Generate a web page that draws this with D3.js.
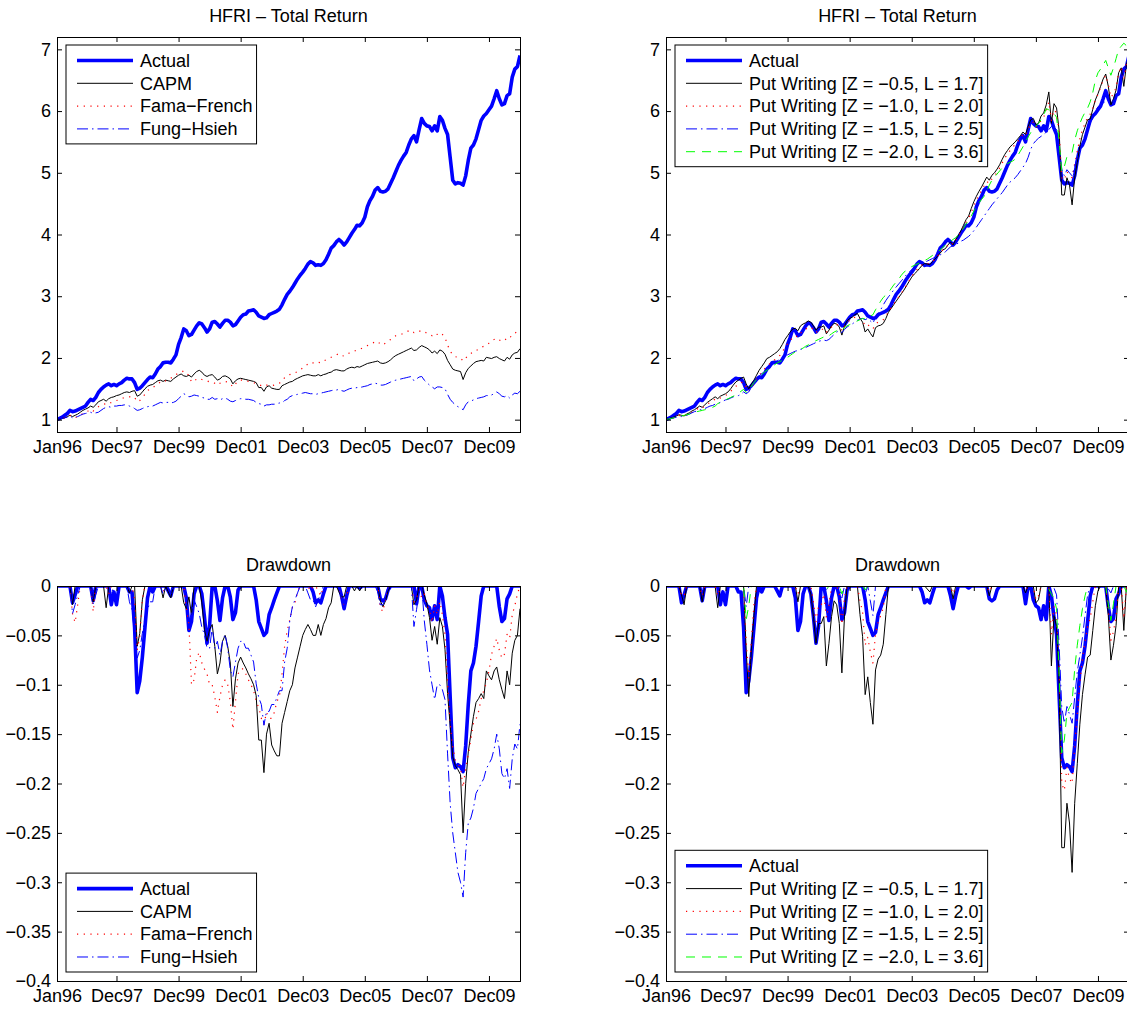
<!DOCTYPE html>
<html>
<head>
<meta charset="utf-8">
<script src="https://cdn.jsdelivr.net/npm/d3@7"></script>
<style>
  body { margin: 0; background: #fff; }
  svg text { font-family: "Liberation Sans", Arial, Helvetica, sans-serif; fill: #000; }
</style>
</head>
<body>
<svg id="chart" width="1127" height="1009"></svg>
<script>

  // months since Jan96 where the x ticks sit, and their labels
  var tickMonths = [0, 23, 47, 71, 95, 119, 143, 167];
  var tickLabels = ['Jan96', 'Dec97', 'Dec99', 'Dec01', 'Dec03', 'Dec05', 'Dec07', 'Dec09'];
  var returnTicks = [1, 2, 3, 4, 5, 6, 7];
  var drawdownTicks = [0, -0.05, -0.1, -0.15, -0.2, -0.25, -0.3, -0.35, -0.4];

  var modelNames = ['Actual', 'CAPM', 'Fama\u2212French', 'Fung\u2212Hsieh'];
  var putNames = ['Actual',
    'Put Writing [Z = \u22120.5, L = 1.7]',
    'Put Writing [Z = \u22121.0, L = 2.0]',
    'Put Writing [Z = \u22121.5, L = 2.5]',
    'Put Writing [Z = \u22122.0, L = 3.6]'];

  // total return, monthly Jan96 .. Dec10 (one row per year)
  var actualTR = [
    1.00,1.02,1.04,1.07,1.10,1.15,1.13,1.14,1.16,1.18,1.20,1.22,
    1.28,1.33,1.31,1.36,1.44,1.49,1.53,1.56,1.58,1.55,1.57,1.55,
    1.58,1.60,1.64,1.67,1.66,1.66,1.60,1.49,1.51,1.55,1.60,1.65,
    1.69,1.68,1.74,1.82,1.86,1.92,1.93,1.93,1.92,1.98,2.05,2.22,
    2.33,2.47,2.44,2.36,2.38,2.45,2.52,2.57,2.55,2.49,2.42,2.47,
    2.58,2.59,2.55,2.50,2.56,2.61,2.61,2.58,2.52,2.54,2.60,2.66,
    2.70,2.71,2.76,2.77,2.78,2.74,2.68,2.66,2.64,2.65,2.70,2.72,
    2.74,2.76,2.79,2.86,2.95,3.03,3.08,3.14,3.21,3.28,3.34,3.39,
    3.45,3.52,3.56,3.54,3.50,3.51,3.50,3.53,3.59,3.68,3.78,3.82,
    3.88,3.92,3.88,3.83,3.88,3.95,4.02,4.08,4.15,4.14,4.19,4.28,
    4.45,4.55,4.62,4.72,4.76,4.70,4.69,4.70,4.74,4.83,4.92,5.02,
    5.12,5.20,5.27,5.33,5.45,5.55,5.60,5.50,5.70,5.88,5.80,5.76,
    5.75,5.68,5.76,5.68,5.91,5.85,5.72,5.62,5.25,4.88,4.82,4.84,
    4.83,4.80,4.95,5.20,5.40,5.45,5.55,5.70,5.85,5.92,5.96,6.02,
    6.08,6.20,6.33,6.20,6.10,6.12,6.25,6.28,6.55,6.68,6.72,6.90
  ];

  var capmTR = [
    1.00,1.01,1.02,1.03,1.05,1.07,1.05,1.07,1.09,1.12,1.15,1.17,
    1.19,1.22,1.20,1.24,1.29,1.31,1.33,1.30,1.34,1.36,1.37,1.39,
    1.40,1.42,1.44,1.45,1.44,1.46,1.47,1.38,1.40,1.45,1.50,1.54,
    1.56,1.57,1.60,1.63,1.64,1.62,1.64,1.63,1.62,1.66,1.69,1.72,
    1.74,1.71,1.70,1.72,1.69,1.74,1.78,1.80,1.77,1.72,1.70,1.72,
    1.73,1.69,1.64,1.66,1.70,1.71,1.69,1.66,1.58,1.63,1.66,1.67,
    1.66,1.65,1.64,1.63,1.62,1.60,1.52,1.52,1.46,1.53,1.55,1.51,
    1.50,1.49,1.49,1.55,1.57,1.59,1.61,1.62,1.65,1.67,1.69,1.71,
    1.72,1.73,1.72,1.71,1.71,1.73,1.71,1.73,1.74,1.76,1.77,1.80,
    1.81,1.80,1.79,1.79,1.82,1.84,1.85,1.84,1.86,1.85,1.87,1.89,
    1.91,1.92,1.93,1.94,1.95,1.92,1.91,1.92,1.94,1.97,2.01,2.04,
    2.06,2.08,2.10,2.12,2.14,2.16,2.12,2.13,2.17,2.20,2.18,2.16,
    2.13,2.08,2.11,2.07,2.13,2.11,2.06,1.96,1.89,1.82,1.80,1.79,
    1.78,1.65,1.76,1.83,1.87,1.91,1.94,1.95,1.96,1.95,2.01,2.00,
    1.99,2.01,2.02,1.99,1.97,1.95,2.01,1.98,2.05,2.08,2.09,2.15
  ];

  var famaFrenchTR = [
    1.00,1.01,1.02,1.03,1.05,1.07,1.04,1.03,1.05,1.07,1.10,1.12,
    1.14,1.17,1.14,1.17,1.21,1.23,1.25,1.26,1.25,1.28,1.29,1.31,
    1.32,1.34,1.36,1.37,1.37,1.38,1.36,1.29,1.31,1.36,1.41,1.47,
    1.50,1.52,1.55,1.58,1.61,1.60,1.63,1.66,1.67,1.70,1.73,1.76,
    1.77,1.79,1.75,1.72,1.61,1.62,1.66,1.67,1.65,1.64,1.63,1.61,
    1.61,1.59,1.56,1.59,1.61,1.62,1.61,1.58,1.53,1.58,1.63,1.64,
    1.64,1.63,1.62,1.61,1.60,1.58,1.57,1.55,1.54,1.56,1.55,1.55,
    1.56,1.58,1.59,1.63,1.68,1.71,1.73,1.75,1.76,1.78,1.80,1.84,
    1.87,1.90,1.89,1.92,1.94,1.93,1.92,1.95,1.97,1.99,2.01,2.03,
    2.05,2.07,2.04,2.03,2.05,2.08,2.10,2.11,2.13,2.14,2.16,2.18,
    2.20,2.22,2.24,2.26,2.27,2.22,2.21,2.24,2.27,2.30,2.34,2.36,
    2.37,2.38,2.40,2.42,2.44,2.45,2.41,2.42,2.44,2.42,2.43,2.40,
    2.39,2.36,2.40,2.38,2.41,2.38,2.33,2.21,2.11,2.05,2.02,2.01,
    2.00,1.95,2.00,2.03,2.07,2.11,2.12,2.14,2.17,2.19,2.21,2.24,
    2.28,2.30,2.32,2.29,2.27,2.28,2.33,2.32,2.38,2.40,2.43,2.46
  ];

  var fungHsiehTR = [
    1.00,1.01,1.02,1.03,1.04,1.06,1.03,1.04,1.05,1.07,1.09,1.10,
    1.11,1.12,1.10,1.11,1.12,1.15,1.18,1.20,1.21,1.20,1.22,1.22,
    1.23,1.23,1.24,1.24,1.22,1.21,1.18,1.15,1.16,1.18,1.20,1.21,
    1.22,1.22,1.24,1.26,1.28,1.27,1.28,1.28,1.27,1.28,1.30,1.34,
    1.38,1.42,1.40,1.37,1.38,1.40,1.39,1.38,1.36,1.35,1.33,1.33,
    1.36,1.33,1.34,1.32,1.34,1.35,1.33,1.30,1.29,1.31,1.33,1.34,
    1.34,1.33,1.33,1.32,1.31,1.28,1.26,1.25,1.22,1.24,1.24,1.25,
    1.25,1.26,1.27,1.27,1.31,1.33,1.37,1.39,1.40,1.41,1.42,1.43,
    1.44,1.43,1.42,1.42,1.41,1.42,1.43,1.44,1.45,1.46,1.47,1.48,
    1.48,1.49,1.47,1.46,1.48,1.50,1.51,1.51,1.52,1.52,1.53,1.54,
    1.55,1.57,1.58,1.59,1.58,1.56,1.56,1.57,1.59,1.61,1.63,1.64,
    1.65,1.66,1.67,1.68,1.69,1.70,1.63,1.66,1.69,1.70,1.64,1.60,
    1.56,1.53,1.50,1.53,1.53,1.52,1.50,1.41,1.33,1.28,1.24,1.21,
    1.19,1.16,1.24,1.29,1.30,1.32,1.34,1.35,1.36,1.37,1.39,1.39,
    1.40,1.42,1.45,1.42,1.38,1.37,1.39,1.35,1.40,1.43,1.42,1.46
  ];

  var put05TR = [
    1.00,1.01,1.03,1.04,1.06,1.08,1.07,1.06,1.09,1.11,1.14,1.16,
    1.19,1.22,1.20,1.24,1.28,1.31,1.34,1.37,1.34,1.38,1.40,1.42,
    1.45,1.50,1.56,1.61,1.64,1.67,1.69,1.58,1.50,1.58,1.64,1.72,
    1.80,1.86,1.92,1.99,2.01,2.04,2.07,2.10,2.15,2.22,2.30,2.36,
    2.42,2.47,2.48,2.44,2.52,2.55,2.57,2.60,2.58,2.52,2.45,2.50,
    2.50,2.52,2.39,2.45,2.52,2.56,2.55,2.50,2.37,2.52,2.60,2.64,
    2.66,2.70,2.72,2.64,2.58,2.42,2.47,2.40,2.34,2.49,2.52,2.53,
    2.56,2.64,2.74,2.80,2.86,2.92,2.98,3.04,3.10,3.17,3.24,3.31,
    3.36,3.40,3.45,3.50,3.53,3.52,3.51,3.56,3.60,3.65,3.70,3.75,
    3.77,3.83,3.88,3.83,3.92,3.98,4.06,4.15,4.24,4.30,4.42,4.53,
    4.62,4.70,4.77,4.85,4.93,4.88,4.96,5.00,5.06,5.13,5.22,5.30,
    5.36,5.42,5.46,5.50,5.55,5.60,5.66,5.62,5.75,5.86,5.88,5.78,
    5.80,5.92,5.97,6.10,6.31,5.80,6.12,6.05,5.68,4.64,4.64,4.92,
    4.80,4.48,4.92,5.17,5.43,5.62,5.74,5.86,5.87,6.03,6.18,6.28,
    6.40,6.52,6.60,6.40,6.10,6.20,6.34,6.62,6.70,6.40,6.75,6.92
  ];

  var put10TR = [
    1.00,1.01,1.02,1.03,1.05,1.07,1.06,1.06,1.08,1.10,1.12,1.14,
    1.17,1.20,1.19,1.22,1.25,1.28,1.31,1.33,1.32,1.35,1.37,1.39,
    1.42,1.46,1.50,1.54,1.57,1.60,1.61,1.52,1.46,1.52,1.58,1.65,
    1.72,1.77,1.82,1.87,1.90,1.94,1.97,2.00,2.04,2.10,2.17,2.23,
    2.28,2.33,2.36,2.34,2.40,2.44,2.47,2.49,2.50,2.46,2.41,2.45,
    2.45,2.48,2.42,2.45,2.50,2.54,2.54,2.52,2.44,2.51,2.57,2.61,
    2.63,2.66,2.68,2.64,2.61,2.52,2.54,2.50,2.47,2.55,2.58,2.60,
    2.62,2.68,2.75,2.81,2.87,2.93,2.99,3.05,3.11,3.18,3.25,3.32,
    3.38,3.43,3.47,3.51,3.53,3.53,3.53,3.56,3.60,3.65,3.70,3.75,
    3.78,3.83,3.87,3.84,3.91,3.97,4.04,4.12,4.20,4.26,4.36,4.46,
    4.56,4.64,4.71,4.79,4.86,4.83,4.90,4.95,5.01,5.08,5.16,5.24,
    5.30,5.36,5.41,5.46,5.51,5.56,5.62,5.60,5.70,5.80,5.82,5.74,
    5.76,5.85,5.90,6.00,6.15,5.85,6.02,5.97,5.66,4.92,4.88,5.02,
    4.95,4.92,5.15,5.35,5.55,5.70,5.80,5.90,5.95,6.05,6.18,6.27,
    6.38,6.50,6.58,6.43,6.22,6.28,6.38,6.62,6.72,6.50,6.78,6.95
  ];

  var put15TR = [
    1.00,1.01,1.02,1.03,1.04,1.05,1.05,1.06,1.07,1.09,1.11,1.13,
    1.14,1.16,1.16,1.18,1.20,1.22,1.23,1.25,1.26,1.28,1.30,1.32,
    1.33,1.35,1.37,1.38,1.39,1.41,1.45,1.42,1.45,1.52,1.58,1.64,
    1.70,1.75,1.79,1.83,1.86,1.89,1.92,1.95,1.98,2.01,2.03,2.05,
    2.07,2.09,2.11,2.12,2.14,2.15,2.17,2.19,2.21,2.23,2.25,2.27,
    2.28,2.29,2.28,2.30,2.34,2.38,2.42,2.44,2.41,2.46,2.50,2.53,
    2.55,2.58,2.61,2.63,2.64,2.62,2.64,2.60,2.56,2.66,2.72,2.78,
    2.86,2.93,2.99,3.04,3.10,3.15,3.20,3.25,3.30,3.35,3.39,3.43,
    3.46,3.49,3.52,3.54,3.55,3.57,3.59,3.61,3.63,3.65,3.67,3.69,
    3.72,3.76,3.80,3.82,3.84,3.86,3.89,3.91,3.94,3.97,4.01,4.06,
    4.12,4.18,4.24,4.30,4.36,4.42,4.48,4.53,4.58,4.63,4.68,4.74,
    4.80,4.85,4.88,4.92,4.97,5.03,5.09,5.15,5.25,5.38,5.47,5.52,
    5.56,5.59,5.62,5.66,5.70,5.75,5.74,5.70,5.40,5.05,4.95,5.05,
    5.00,4.95,5.10,5.25,5.35,5.45,5.58,5.70,5.80,5.90,6.00,6.07,
    6.10,6.13,6.16,6.14,6.12,6.18,6.22,6.32,6.50,6.62,6.72,6.85
  ];

  var put20TR = [
    1.00,1.01,1.02,1.03,1.04,1.05,1.06,1.07,1.08,1.09,1.10,1.12,
    1.13,1.14,1.15,1.16,1.17,1.19,1.20,1.22,1.26,1.28,1.30,1.32,
    1.34,1.36,1.38,1.40,1.43,1.46,1.49,1.44,1.46,1.54,1.60,1.65,
    1.69,1.73,1.77,1.80,1.83,1.86,1.89,1.92,1.94,1.96,1.99,2.01,
    2.04,2.07,2.10,2.12,2.14,2.16,2.19,2.21,2.24,2.26,2.28,2.30,
    2.32,2.34,2.33,2.36,2.39,2.42,2.44,2.46,2.44,2.49,2.52,2.54,
    2.56,2.58,2.60,2.62,2.64,2.63,2.66,2.68,2.70,2.78,2.85,2.92,
    2.98,3.02,3.06,3.12,3.18,3.23,3.28,3.34,3.39,3.42,3.45,3.48,
    3.50,3.52,3.54,3.56,3.58,3.60,3.63,3.66,3.69,3.72,3.75,3.79,
    3.83,3.86,3.89,3.92,3.95,3.99,4.04,4.10,4.17,4.23,4.30,4.38,
    4.45,4.51,4.57,4.62,4.70,4.80,4.88,4.93,4.98,5.03,5.08,5.12,
    5.15,5.17,5.19,5.22,5.28,5.35,5.42,5.50,5.58,5.65,5.72,5.76,
    5.80,5.86,5.93,6.04,6.02,5.99,5.96,5.90,5.50,5.02,5.10,5.26,
    5.30,5.33,5.53,5.68,5.80,5.90,5.98,6.05,6.15,6.30,6.50,6.62,
    6.68,6.75,6.82,6.70,6.58,6.70,6.85,7.00,7.05,7.10,7.06,7.12
  ];

  // drawdown, monthly Jan96 .. Dec10
  var actualDD = [
    0,0,0,0,0,0,-0.017,-0.009,0,0,0,0,
    0,0,-0.015,0,0,0,0,0,0,-0.019,-0.006,-0.019,
    0,0,0,0,-0.006,-0.006,-0.042,-0.108,-0.096,-0.072,-0.042,-0.012,
    0,-0.006,0,0,0,0,0,-0.005,-0.01,0,0,0,
    0,0,-0.012,-0.045,-0.036,-0.008,0,0,-0.008,-0.031,-0.058,-0.04,
    0,0,-0.015,-0.035,-0.012,0,0,-0.011,-0.034,-0.027,-0.004,0,
    0,0,0,0,0,-0.014,-0.036,-0.043,-0.05,-0.047,-0.029,-0.022,
    -0.014,-0.007,0,0,0,0,0,0,0,0,0,0,
    0,0,0,-0.006,-0.017,-0.014,-0.017,-0.008,0,0,0,0,
    0,0,-0.01,-0.023,-0.01,0,0,0,0,-0.002,0,0,
    0,0,0,0,0,-0.013,-0.015,-0.013,-0.004,0,0,0,
    0,0,0,0,0,0,0,-0.018,0,0,-0.014,-0.02,
    -0.022,-0.034,-0.02,-0.034,0,-0.01,-0.032,-0.049,-0.112,-0.174,-0.184,-0.181,
    -0.183,-0.188,-0.162,-0.12,-0.086,-0.078,-0.061,-0.036,-0.01,0,0,0,
    0,0,0,-0.021,-0.036,-0.033,-0.013,-0.008,0,0,0,0
  ];

  var capmDD = [
    0,0,0,0,0,0,-0.019,0,0,0,0,0,
    0,0,-0.016,0,0,0,0,-0.022,0,0,0,0,
    0,0,0,0,-0.007,0,0,-0.061,-0.048,-0.014,0,0,
    0,0,0,0,0,-0.012,0,-0.006,-0.012,0,0,0,
    0,-0.017,-0.023,-0.011,-0.029,0,0,0,-0.017,-0.044,-0.056,-0.044,
    -0.039,-0.061,-0.089,-0.078,-0.056,-0.05,-0.061,-0.078,-0.122,-0.094,-0.078,-0.072,
    -0.078,-0.083,-0.089,-0.094,-0.1,-0.111,-0.156,-0.156,-0.189,-0.15,-0.139,-0.161,
    -0.167,-0.172,-0.172,-0.139,-0.128,-0.117,-0.106,-0.1,-0.083,-0.072,-0.061,-0.05,
    -0.044,-0.039,-0.044,-0.05,-0.05,-0.039,-0.05,-0.039,-0.033,-0.022,-0.017,0,
    0,-0.006,-0.011,-0.011,0,0,0,-0.005,0,-0.005,0,0,
    0,0,0,0,0,-0.015,-0.021,-0.015,-0.005,0,0,0,
    0,0,0,0,0,0,-0.019,-0.014,0,0,-0.009,-0.018,
    -0.032,-0.055,-0.041,-0.059,-0.032,-0.041,-0.064,-0.109,-0.141,-0.173,-0.182,-0.186,
    -0.191,-0.25,-0.2,-0.168,-0.15,-0.132,-0.118,-0.114,-0.109,-0.114,-0.086,-0.091,
    -0.095,-0.086,-0.082,-0.095,-0.105,-0.114,-0.086,-0.1,-0.068,-0.055,-0.05,-0.023
  ];

  var famaFrenchDD = [
    0,0,0,0,0,0,-0.028,-0.037,-0.019,0,0,0,
    0,0,-0.026,0,0,0,0,0,-0.008,0,0,0,
    0,0,0,0,0,0,-0.014,-0.065,-0.051,-0.014,0,0,
    0,0,0,0,0,-0.006,0,0,0,0,0,0,
    0,0,-0.022,-0.039,-0.1,-0.095,-0.073,-0.067,-0.078,-0.084,-0.089,-0.1,
    -0.1,-0.112,-0.128,-0.112,-0.1,-0.095,-0.1,-0.117,-0.145,-0.117,-0.089,-0.084,
    -0.084,-0.089,-0.095,-0.1,-0.106,-0.117,-0.123,-0.134,-0.14,-0.128,-0.134,-0.134,
    -0.128,-0.117,-0.112,-0.089,-0.061,-0.045,-0.034,-0.022,-0.017,-0.006,0,0,
    0,0,-0.005,0,0,-0.005,-0.01,0,0,0,0,0,
    0,0,-0.015,-0.019,-0.01,0,0,0,0,0,0,0,
    0,0,0,0,0,-0.022,-0.026,-0.013,0,0,0,0,
    0,0,0,0,0,0,-0.016,-0.012,-0.004,-0.012,-0.008,-0.02,
    -0.024,-0.037,-0.02,-0.029,-0.016,-0.029,-0.049,-0.098,-0.139,-0.163,-0.176,-0.18,
    -0.184,-0.204,-0.184,-0.171,-0.155,-0.139,-0.135,-0.127,-0.114,-0.106,-0.098,-0.086,
    -0.069,-0.061,-0.053,-0.065,-0.073,-0.069,-0.049,-0.053,-0.029,-0.02,-0.008,0
  ];

  var fungHsiehDD = [
    0,0,0,0,0,0,-0.028,-0.019,-0.009,0,0,0,
    0,0,-0.018,-0.009,0,0,0,0,0,-0.008,0,0,
    0,0,0,0,-0.016,-0.024,-0.048,-0.073,-0.065,-0.048,-0.032,-0.024,
    -0.016,-0.016,0,0,0,-0.008,0,0,-0.008,0,0,0,
    0,0,-0.014,-0.035,-0.028,-0.014,-0.021,-0.028,-0.042,-0.049,-0.063,-0.063,
    -0.042,-0.063,-0.056,-0.07,-0.056,-0.049,-0.063,-0.085,-0.092,-0.077,-0.063,-0.056,
    -0.056,-0.063,-0.063,-0.07,-0.077,-0.099,-0.113,-0.12,-0.141,-0.127,-0.127,-0.12,
    -0.12,-0.113,-0.106,-0.106,-0.077,-0.063,-0.035,-0.021,-0.014,-0.007,0,0,
    0,-0.007,-0.014,-0.014,-0.021,-0.014,-0.007,0,0,0,0,0,
    0,0,-0.013,-0.02,-0.007,0,0,0,0,0,0,0,
    0,0,0,0,-0.006,-0.019,-0.019,-0.013,0,0,0,0,
    0,0,0,0,0,0,-0.041,-0.024,-0.006,0,-0.035,-0.059,
    -0.085,-0.1,-0.115,-0.1,-0.1,-0.105,-0.115,-0.17,-0.22,-0.25,-0.27,-0.29,
    -0.3,-0.315,-0.27,-0.24,-0.235,-0.225,-0.21,-0.205,-0.2,-0.195,-0.185,-0.18,
    -0.175,-0.165,-0.15,-0.165,-0.19,-0.195,-0.185,-0.205,-0.175,-0.16,-0.165,-0.14
  ];

  var put05DD = [
    0,0,0,0,0,0,-0.009,-0.019,0,0,0,0,
    0,0,-0.016,0,0,0,0,0,-0.022,0,0,0,
    0,0,0,0,0,0,0,-0.065,-0.112,-0.065,-0.03,0,
    0,0,0,0,0,0,0,0,0,0,0,0,
    0,0,0,-0.016,0,0,0,0,-0.008,-0.031,-0.058,-0.038,
    -0.038,-0.031,-0.081,-0.058,-0.031,-0.015,-0.019,-0.038,-0.088,-0.031,0,0,
    0,0,0,-0.029,-0.051,-0.11,-0.092,-0.118,-0.14,-0.085,-0.074,-0.07,
    -0.059,-0.029,0,0,0,0,0,0,0,0,0,0,
    0,0,0,0,0,-0.003,-0.006,0,0,0,0,0,
    0,0,0,-0.013,0,0,0,0,0,0,0,0,
    0,0,0,0,0,-0.01,0,0,0,0,0,0,
    0,0,0,0,0,0,0,-0.007,0,0,0,-0.017,
    -0.014,0,0,0,0,-0.081,-0.03,-0.041,-0.1,-0.265,-0.265,-0.22,
    -0.24,-0.29,-0.22,-0.18,-0.14,-0.11,-0.09,-0.072,-0.07,-0.045,-0.02,-0.005,
    0,0,0,-0.03,-0.075,-0.06,-0.04,0,0,-0.045,0,0
  ];

  var put10DD = [
    0,0,0,0,0,0,-0.01,-0.01,0,0,0,0,
    0,0,-0.01,0,0,0,0,0,-0.01,0,0,0,
    0,0,0,0,0,0,0,-0.056,-0.093,-0.056,-0.019,0,
    0,0,0,0,0,0,0,0,0,0,0,0,
    0,0,0,-0.008,0,0,0,0,0,-0.016,-0.036,-0.02,
    -0.02,-0.008,-0.032,-0.02,0,0,0,-0.008,-0.039,-0.012,0,0,
    0,0,0,-0.015,-0.026,-0.06,-0.052,-0.067,-0.078,-0.049,-0.037,-0.03,
    -0.022,0,0,0,0,0,0,0,0,0,0,0,
    0,0,0,0,0,0,0,0,0,0,0,0,
    0,0,0,-0.008,0,0,0,0,0,0,0,0,
    0,0,0,0,0,-0.006,0,0,0,0,0,0,
    0,0,0,0,0,0,0,-0.004,0,0,0,-0.014,
    -0.01,0,0,0,0,-0.049,-0.021,-0.029,-0.08,-0.2,-0.207,-0.184,
    -0.195,-0.2,-0.163,-0.13,-0.098,-0.073,-0.057,-0.041,-0.033,-0.016,0,0,
    0,0,0,-0.023,-0.055,-0.046,-0.03,0,0,-0.033,0,0
  ];

  var put15DD = [
    0,0,0,0,0,0,0,0,0,0,0,0,
    0,0,0,0,0,0,0,0,0,0,0,0,
    0,0,0,0,0,0,0,-0.021,0,0,0,0,
    0,0,0,0,0,0,0,0,0,0,0,0,
    0,0,0,0,0,0,0,0,0,0,0,0,
    0,0,-0.004,0,0,0,0,0,-0.012,0,0,0,
    0,0,0,0,0,-0.008,0,-0.015,-0.03,0,0,0,
    0,0,0,0,0,0,0,0,0,0,0,0,
    0,0,0,0,0,0,0,0,0,0,0,0,
    0,0,0,0,0,0,0,0,0,0,0,0,
    0,0,0,0,0,0,0,0,0,0,0,0,
    0,0,0,0,0,0,0,0,0,0,0,0,
    0,0,0,0,0,0,-0.002,-0.009,-0.061,-0.122,-0.139,-0.122,
    -0.13,-0.139,-0.113,-0.087,-0.07,-0.052,-0.03,-0.009,0,0,0,0,
    0,0,0,-0.003,-0.007,0,0,0,0,0,0,0
  ];

  var put20DD = [
    0,0,0,0,0,0,0,0,0,0,0,0,
    0,0,0,0,0,0,0,0,0,0,0,0,
    0,0,0,0,0,0,0,-0.034,-0.02,0,0,0,
    0,0,0,0,0,0,0,0,0,0,0,0,
    0,0,0,0,0,0,0,0,0,0,0,0,
    0,0,-0.004,0,0,0,0,0,-0.008,0,0,0,
    0,0,0,0,0,-0.004,0,0,0,0,0,0,
    0,0,0,0,0,0,0,0,0,0,0,0,
    0,0,0,0,0,0,0,0,0,0,0,0,
    0,0,0,0,0,0,0,0,0,0,0,0,
    0,0,0,0,0,0,0,0,0,0,0,0,
    0,0,0,0,0,0,0,0,0,0,0,0,
    0,0,0,0,-0.003,-0.008,-0.013,-0.023,-0.089,-0.169,-0.156,-0.129,
    -0.123,-0.118,-0.084,-0.06,-0.04,-0.023,-0.01,0,0,0,0,0,
    0,0,0,-0.018,-0.035,-0.018,0,0,0,0,-0.006,0
  ];

  // MATLAB-like line specs
  var lineStyles = {
    actual:  { color: '#0000ff', width: 3.6, dash: null },
    solid:   { color: '#000000', width: 1,   dash: null },
    dotted:  { color: '#ff0000', width: 1.2, dash: '1.2,5.5' },
    dashdot: { color: '#0000ff', width: 1,   dash: '11,4,1.5,4' },
    dashed:  { color: '#00ff00', width: 1,   dash: '9,7' }
  };

  var panelW = 463, panelH = 395;
  var fontSize = 18;

  var svg = d3.select('#chart');

  var fmtDrawdown = function (d) {
    return d === 0 ? '0' : '\u2212' + String(+Math.abs(d).toFixed(2));
  };

  function drawPanel(p, idx) {
    var x = d3.scaleLinear().domain([0, 179]).range([0, panelW]);
    var y = d3.scaleLinear().domain(p.yDomain).range([panelH, 0]);

    var g = svg.append('g').attr('transform', 'translate(' + p.left + ',' + p.top + ')');

    g.append('text')
      .attr('x', panelW / 2)
      .attr('y', -15)
      .attr('text-anchor', 'middle')
      .style('font-size', fontSize + 'px')
      .text(p.title);

    svg.append('clipPath').attr('id', 'clip' + idx)
      .append('rect').attr('width', panelW).attr('height', panelH);

    var lines = g.append('g').attr('clip-path', 'url(#clip' + idx + ')');
    var line = d3.line()
      .x(function (d, i) { return x(i); })
      .y(function (d) { return y(d); });

    p.series.forEach(function (s) {
      var st = lineStyles[s.style];
      lines.append('path')
        .datum(s.values)
        .attr('d', line)
        .attr('fill', 'none')
        .attr('stroke', st.color)
        .attr('stroke-width', st.width)
        .attr('stroke-linejoin', 'round')
        .attr('stroke-dasharray', st.dash);
    });

    // axes with inward ticks on all four sides
    var bottom = g.append('g').attr('transform', 'translate(0,' + panelH + ')')
      .call(d3.axisBottom(x).tickValues(tickMonths)
        .tickFormat(function (d, i) { return tickLabels[i]; })
        .tickSizeInner(-5).tickSizeOuter(0).tickPadding(8));
    var left = g.append('g')
      .call(d3.axisLeft(y).tickValues(p.yTicks).tickFormat(p.yFormat)
        .tickSizeInner(-5).tickSizeOuter(0).tickPadding(6));
    var top = g.append('g')
      .call(d3.axisTop(x).tickValues(tickMonths).tickFormat('')
        .tickSizeInner(-5).tickSizeOuter(0));
    var right = g.append('g').attr('transform', 'translate(' + panelW + ',0)')
      .call(d3.axisRight(y).tickValues(p.yTicks).tickFormat('')
        .tickSizeInner(-5).tickSizeOuter(0));

    [bottom, left, top, right].forEach(function (a) {
      a.select('.domain').remove();
      a.selectAll('line').attr('stroke', '#000');
      a.selectAll('text')
        .attr('fill', '#000')
        .style('font-size', fontSize + 'px')
        .style('font-family', '"Liberation Sans", Arial, Helvetica, sans-serif');
    });

    g.append('rect')
      .attr('x', 0.5).attr('y', 0.5)
      .attr('width', panelW).attr('height', panelH)
      .attr('fill', 'none').attr('stroke', '#000').attr('stroke-width', 1);

    drawLegend(g, p, y);
  }

  function drawLegend(g, p, y) {
    var rowH = 22.8, n = p.series.length;
    var boxH = 15.5 + (n - 1) * rowH + 15;
    var boxX = 9, boxY = p.legend === 'top' ? 8 : panelH - 9 - boxH;

    var lg = g.append('g').attr('transform', 'translate(' + boxX + ',' + boxY + ')');
    var box = lg.append('rect')
      .attr('height', boxH)
      .attr('fill', '#fff').attr('stroke', '#000').attr('stroke-width', 1);

    var maxW = 0;
    p.series.forEach(function (s, i) {
      var st = lineStyles[s.style];
      var cy = 15.5 + i * rowH;
      lg.append('line')
        .attr('x1', 11).attr('x2', 67)
        .attr('y1', cy).attr('y2', cy)
        .attr('stroke', st.color)
        .attr('stroke-width', st.width)
        .attr('stroke-dasharray', st.dash);
      var t = lg.append('text')
        .attr('x', 74).attr('y', cy)
        .attr('dy', '0.35em')
        .style('font-size', fontSize + 'px')
        .text(s.name);
      maxW = Math.max(maxW, t.node().getComputedTextLength());
    });
    box.attr('width', 74 + maxW + 4);
  }

  var trDomain = [0.8, 7.2];
  var ddDomain = [-0.4, 0];

  var panels = [
    { left: 57, top: 37, title: 'HFRI \u2013 Total Return', yDomain: trDomain, yTicks: returnTicks,
      yFormat: d3.format('d'), legend: 'top',
      series: [
        { name: modelNames[0], values: actualTR, style: 'actual' },
        { name: modelNames[1], values: capmTR, style: 'solid' },
        { name: modelNames[2], values: famaFrenchTR, style: 'dotted' },
        { name: modelNames[3], values: fungHsiehTR, style: 'dashdot' }
      ] },
    { left: 666, top: 37, title: 'HFRI \u2013 Total Return', yDomain: trDomain, yTicks: returnTicks,
      yFormat: d3.format('d'), legend: 'top',
      series: [
        { name: putNames[0], values: actualTR, style: 'actual' },
        { name: putNames[1], values: put05TR, style: 'solid' },
        { name: putNames[2], values: put10TR, style: 'dotted' },
        { name: putNames[3], values: put15TR, style: 'dashdot' },
        { name: putNames[4], values: put20TR, style: 'dashed' }
      ] },
    { left: 57, top: 586, title: 'Drawdown', yDomain: ddDomain, yTicks: drawdownTicks,
      yFormat: fmtDrawdown, legend: 'bottom',
      series: [
        { name: modelNames[0], values: actualDD, style: 'actual' },
        { name: modelNames[1], values: capmDD, style: 'solid' },
        { name: modelNames[2], values: famaFrenchDD, style: 'dotted' },
        { name: modelNames[3], values: fungHsiehDD, style: 'dashdot' }
      ] },
    { left: 666, top: 586, title: 'Drawdown', yDomain: ddDomain, yTicks: drawdownTicks,
      yFormat: fmtDrawdown, legend: 'bottom',
      series: [
        { name: putNames[0], values: actualDD, style: 'actual' },
        { name: putNames[1], values: put05DD, style: 'solid' },
        { name: putNames[2], values: put10DD, style: 'dotted' },
        { name: putNames[3], values: put15DD, style: 'dashdot' },
        { name: putNames[4], values: put20DD, style: 'dashed' }
      ] }
  ];

  panels.forEach(drawPanel);

</script>
</body>
</html>
